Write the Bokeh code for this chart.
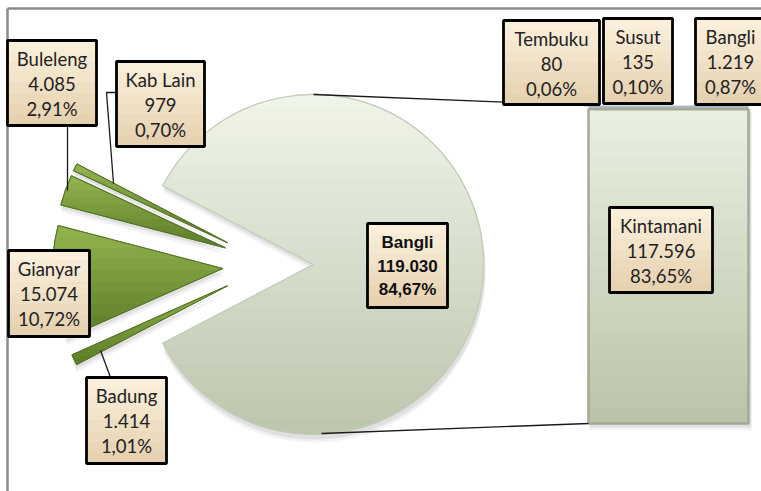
import math
from bokeh.plotting import figure
from bokeh.models import Range1d, ColumnDataSource
from bokeh.core.properties import value
from bokeh.embed import file_html
from bokeh.resources import INLINE

# ---------------- data ----------------
pie_names = ["Bangli", "Kab Lain", "Buleleng", "Gianyar", "Badung"]
pie_values = [119030, 979, 4085, 15074, 1414]
bar_names = ["Kintamani", "Bangli", "Susut", "Tembuku"]
bar_values = [117596, 1219, 135, 80]

TOTAL = sum(pie_values)
BAR_TOTAL = sum(bar_values)


def fmt_int(v):
    return f"{v:,}".replace(",", ".")


def fmt_pct(v):
    return f"{v / TOTAL * 100:.2f}".replace(".", ",") + "%"


def mix(c1, c2, t):
    a = [int(c1[i:i + 2], 16) for i in (1, 3, 5)]
    b = [int(c2[i:i + 2], 16) for i in (1, 3, 5)]
    return "#" + "".join(f"{round(x + (y - x) * t):02x}" for x, y in zip(a, b))


def clip(poly, y0, keep_above):
    out = []
    n = len(poly)
    for i in range(n):
        p1, p2 = poly[i], poly[(i + 1) % n]
        in1 = (p1[1] >= y0) if keep_above else (p1[1] <= y0)
        in2 = (p2[1] >= y0) if keep_above else (p2[1] <= y0)
        if in1:
            out.append(p1)
        if in1 != in2:
            t = (y0 - p1[1]) / (p2[1] - p1[1])
            out.append((p1[0] + t * (p2[0] - p1[0]), y0))
    return out


def gradient_bands(cx, cy, r, a0, a1, c_top, c_bot, nb):
    poly = [(cx, cy)] + [(cx + r * math.cos(a0 + (a1 - a0) * i / 240),
                          cy + r * math.sin(a0 + (a1 - a0) * i / 240)) for i in range(241)]
    ys = [q[1] for q in poly]
    ymax, ymin = max(ys), min(ys)
    xs_out, ys_out, cs = [], [], []
    for i in range(nb):
        yhi = ymax - (ymax - ymin) * i / nb
        ylo = ymax - (ymax - ymin) * (i + 1) / nb
        band = clip(clip(poly, ylo - 0.6, True), yhi, False)
        if len(band) >= 3:
            xs_out.append([q[0] for q in band]); ys_out.append([q[1] for q in band])
            cs.append(mix(c_top, c_bot, (i + 0.5) / nb))
    return xs_out, ys_out, cs


# ---------------- layout (screen px -> data) ----------------
W, H = 761, 491
def Y(sy):
    return H - sy

p = figure(width=W, height=H, x_range=Range1d(0, W), y_range=Range1d(0, H),
           output_backend="svg", toolbar_location=None, min_border=0)
p.axis.visible = False
p.grid.visible = False
p.outline_line_color = None
p.background_fill_color = "white"

# chart border (top & left visible)
p.line([7, W], [Y(8), Y(8)], line_color="#8c8c8c", line_width=2.5)
p.line([7, 7], [Y(8), 0], line_color="#8c8c8c", line_width=2.5)

# ---------------- pie ----------------
CX, CY, R = 271, Y(264), 170
EXP_MAIN, EXP_SMALL = 42, 49

half = math.pi * pie_values[0] / TOTAL
slices = [(CX + EXP_MAIN, CY, -half, half)]
ang = half
for v in pie_values[1:]:
    a0 = ang
    a1 = ang + 2 * math.pi * v / TOTAL
    mid = (a0 + a1) / 2
    slices.append((CX + EXP_SMALL * math.cos(mid), CY + EXP_SMALL * math.sin(mid), a0, a1))
    ang = a1

pie_src = ColumnDataSource(dict(
    x=[s[0] for s in slices], y=[s[1] for s in slices],
    s=[s[2] for s in slices], e=[s[3] for s in slices],
    c=["#dce4d0"] + ["#74963a"] * 4, l=["#c6cebb"] + ["#5a7a2a"] * 4))
# soft shadow
for d, a in ((7, 0.05), (4, 0.07)):
    p.wedge(x=[s[0] + 1 for s in slices], y=[s[1] - d for s in slices], radius=R + 1,
            start_angle=[s[2] for s in slices], end_angle=[s[3] for s in slices],
            fill_color="#000000", fill_alpha=a, line_color=None)
p.wedge(x="x", y="y", radius=R, start_angle="s", end_angle="e", source=pie_src,
        fill_color="c", line_color="l", line_width=1.2)

# vertical gradients on slices
gx, gy, gc = [], [], []
mx, my, ma0, ma1 = slices[0]
a, b, c = gradient_bands(mx, my, R, ma0, ma1, "#f0f5e9", "#bcc5ad", 24)
gx += a; gy += b; gc += c
for (sx, sy, s0, s1) in slices[1:]:
    a, b, c = gradient_bands(sx, sy, R, s0, s1, "#93b54e", "#5b7b27", 10)
    gx += a; gy += b; gc += c
p.patches(gx, gy, fill_color=gc, line_color=None)
p.wedge(x=[mx], y=[my], radius=R, start_angle=[ma0], end_angle=[ma1],
        fill_color=None, line_color="#c4ccb8", line_width=1.2)
p.wedge(x=[s[0] for s in slices[1:]], y=[s[1] for s in slices[1:]], radius=R,
        start_angle=[s[2] for s in slices[1:]], end_angle=[s[3] for s in slices[1:]],
        fill_color=None, line_color="#55742a", line_width=1)

# ---------------- bar (stacked) ----------------
BAR_LEFT, BAR_RIGHT = 588, 748
BAR_BOT, BAR_TOP = Y(423), Y(105)
BAR_X, BAR_W = (BAR_LEFT + BAR_RIGHT) / 2, BAR_RIGHT - BAR_LEFT
k = BAR_TOTAL / (BAR_TOP - BAR_BOT)
p.extra_y_ranges = {"bar": Range1d(start=(0 - BAR_BOT) * k, end=(H - BAR_BOT) * k)}

bottoms, tops = [], []
acc = 0
for v in bar_values:
    bottoms.append(acc); acc += v; tops.append(acc)
# shadow
for d, a in ((7, 0.05), (4, 0.07)):
    p.vbar(x=BAR_X + 2, width=BAR_W + 2, bottom=-d * k, top=BAR_TOTAL - d * k,
           y_range_name="bar", fill_color="#000000", fill_alpha=a, line_color=None)
# Kintamani segment with vertical gradient
NG = 20
seg_b = [bottoms[0] + (tops[0] - bottoms[0]) * i / NG for i in range(NG)]
seg_t = [bottoms[0] + (tops[0] - bottoms[0]) * (i + 1) / NG for i in range(NG)]
seg_c = [mix("#bac3a9", "#e9f0e1", (i + 0.5) / NG) for i in range(NG)]
p.vbar(x=BAR_X, width=BAR_W, bottom=seg_b, top=seg_t, y_range_name="bar",
       fill_color=seg_c, line_color=seg_c, line_width=1)
p.vbar(x=[BAR_X] * 3, width=BAR_W, bottom=bottoms[1:], top=tops[1:], y_range_name="bar",
       fill_color=["#a9b7c3", "#9fb0be", "#b6c3cd"], line_color=None)
p.vbar(x=BAR_X, width=BAR_W, bottom=bottoms[0], top=tops[0], y_range_name="bar",
       fill_color=None, line_color="#a3ab94", line_width=2.5)

# connector lines pie -> bar
p.line([mx, BAR_LEFT], [my + R, BAR_TOP], line_color="#1a1a1a", line_width=1.3)
p.line([mx + 8, BAR_LEFT], [my - R + 1, BAR_BOT], line_color="#1a1a1a", line_width=1.3)

# leader lines
p.line([67, 67], [Y(125), Y(190)], line_color="#1a1a1a", line_width=1.3)
p.line([116, 106, 113], [Y(92), Y(92), Y(183)], line_color="#1a1a1a", line_width=1.3)
p.line([110, 100], [Y(377), Y(350)], line_color="#1a1a1a", line_width=1.3)

# ---------------- labels ----------------
labels = [
    # name, value, (left, top, right, bottom)
    (pie_names[2], pie_values[2], (7, 40, 96, 125)),
    (pie_names[1], pie_values[1], (116, 61, 204, 146)),
    (pie_names[3], pie_values[3], (8, 250, 89, 336)),
    (pie_names[4], pie_values[4], (86, 377, 166, 463)),
    (bar_names[3], bar_values[3], (503, 20, 599, 104)),
    (bar_names[2], bar_values[2], (603, 18, 672, 103)),
    (bar_names[1], bar_values[1], (695, 18, 775, 104)),
    (bar_names[0], bar_values[0], (609, 207, 712, 292)),
]
centre_box = (367, 223, 447, 307)

NL = 8
ql, qr, qt, qb, qc = [], [], [], [], []
for (l, t, r, b) in [lb[2] for lb in labels] + [centre_box]:
    for i in range(NL):
        ql.append(l); qr.append(r)
        qt.append(Y(t + (b - t) * i / NL)); qb.append(Y(t + (b - t) * (i + 1) / NL))
        qc.append(mix("#fcf1de", "#e4d0ae", (i + 0.5) / NL))
p.quad(left=ql, right=qr, top=qt, bottom=qb, fill_color=qc, line_color=qc, line_width=0.8)

bl, br, bt, bb = [], [], [], []
tx, ty, tt = [], [], []
for name, v, (l, t, r, b) in labels:
    bl.append(l); br.append(r); bt.append(Y(t)); bb.append(Y(b))
    cx = (l + r) / 2 if r < W else 730
    for i, s in enumerate([name, fmt_int(v), fmt_pct(v)]):
        tx.append(cx); ty.append(Y(t + 18 + 25 * i)); tt.append(s)
l, t, r, b = centre_box
bl.append(l); br.append(r); bt.append(Y(t)); bb.append(Y(b))
p.quad(left=bl, right=br, top=bt, bottom=bb, fill_color=None,
       line_color="#000000", line_width=2.8)

p.text(x=tx, y=ty, text=tt, text_align="center", text_baseline="middle",
       text_font=value("Lato"), text_font_size="18.5px", text_color="#222222")

v0 = pie_values[0]
p.text(x=[(l + r) / 2] * 3, y=[Y(t + 19 + 23.5 * i) for i in range(3)],
       text=[pie_names[0], fmt_int(v0), fmt_pct(v0)], text_align="center",
       text_baseline="middle", text_font=value("Liberation Sans"), text_font_style="bold",
       text_font_size="17px", text_color="#111111")

open("out.html", "w").write(file_html(p, INLINE))
